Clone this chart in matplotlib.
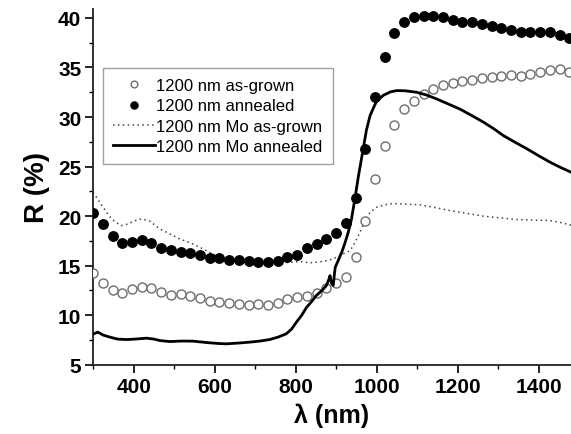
import matplotlib
matplotlib.use("Agg")
import matplotlib.pyplot as plt
from matplotlib.ticker import MultipleLocator

plt.rcParams['font.family'] = ['Liberation Sans', 'DejaVu Sans']

# wavelengths of the sampled (marker) series, nm
wl_pts = [300, 324, 348, 372, 396, 420, 444, 468, 492, 516, 540, 564, 588, 612,
          636, 660, 684, 708, 732, 756, 780, 804, 828, 852, 876, 900, 924, 948,
          972, 996, 1020, 1044, 1068, 1092, 1116, 1140, 1164, 1188, 1212, 1236,
          1260, 1284, 1308, 1332, 1356, 1380, 1404, 1428, 1452, 1476]

# 1200 nm as-grown (open circles)
r_asgrown = [14.25, 13.27, 12.56, 12.26, 12.64, 12.84, 12.74, 12.39, 12.06, 12.13,
             11.99, 11.79, 11.48, 11.35, 11.25, 11.15, 11.02, 11.12, 11.05, 11.2,
             11.6, 11.8, 11.9, 12.2, 12.8, 13.3, 13.85, 15.9, 19.5, 23.7,
             27.05, 29.2, 30.8, 31.66, 32.3, 32.8, 33.2, 33.4, 33.6, 33.7,
             33.9, 34.05, 34.1, 34.2, 34.1, 34.3, 34.5, 34.7, 34.8, 34.5]

# 1200 nm annealed (filled circles)
r_annealed = [20.33, 19.19, 17.98, 17.31, 17.44, 17.58, 17.28, 16.8, 16.57, 16.43,
              16.33, 16.1, 15.82, 15.76, 15.59, 15.59, 15.49, 15.42, 15.42, 15.49,
              15.89, 16.1, 16.8, 17.2, 17.68, 18.3, 19.3, 21.8, 26.8, 32.0,
              36.1, 38.5, 39.6, 40.07, 40.23, 40.17, 40.07, 39.83, 39.63, 39.63,
              39.4, 39.22, 38.96, 38.79, 38.62, 38.56, 38.56, 38.56, 38.29, 37.95]

# 1200 nm Mo as-grown (dotted line)
wl_mo_ag = [300, 320, 340, 355, 370, 385, 400, 420, 440, 465, 490, 514, 540, 563,
            585, 604, 630, 660, 690, 712, 740, 770, 811, 835, 856, 875, 893, 918,
            935, 947, 959, 972, 984, 1000, 1020, 1041, 1060, 1083, 1107, 1140,
            1181, 1220, 1264, 1300, 1346, 1390, 1428, 1455, 1480]
r_mo_ag = [22.4, 21.2, 20.0, 19.4, 19.05, 19.2, 19.5, 19.73, 19.5, 18.7, 18.2, 17.7,
           17.3, 16.87, 16.4, 16.0, 15.75, 15.55, 15.45, 15.36, 15.35, 15.3, 15.42,
           15.3, 15.36, 15.5, 15.69, 16.2, 16.53, 17.37, 18.38, 19.56, 20.4, 20.9,
           21.15, 21.27, 21.24, 21.2, 21.14, 20.9, 20.57, 20.3, 20.0, 19.85, 19.66,
           19.6, 19.56, 19.35, 19.1]

# 1200 nm Mo annealed (solid line)
wl_mo_an = [300, 312, 325, 341, 360, 382, 405, 432, 450, 465, 489, 520, 547, 580,
            610, 629, 660, 687, 712, 736, 757, 777, 790, 802, 815, 827, 840, 851,
            865, 876, 882, 885, 889, 893, 896, 898, 905, 914, 922, 930, 938, 947,
            955, 967, 975, 984, 992, 1000, 1017, 1035, 1050, 1070, 1099, 1125,
            1148, 1175, 1206, 1235, 1264, 1290, 1313, 1340, 1371, 1400, 1428,
            1455, 1480]
r_mo_an = [8.1, 8.3, 8.0, 7.8, 7.6, 7.55, 7.6, 7.69, 7.6, 7.45, 7.35, 7.4, 7.39,
           7.25, 7.15, 7.12, 7.2, 7.29, 7.4, 7.55, 7.8, 8.13, 8.6, 9.3, 10.0, 10.8,
           11.4, 11.99, 12.5, 13.0, 13.6, 14.0, 13.2, 13.0, 14.2, 14.85, 15.5,
           16.37, 17.3, 18.38, 19.7, 21.9, 24.0, 26.8, 28.7, 30.15, 30.9, 31.6,
           32.2, 32.55, 32.67, 32.65, 32.5, 32.2, 31.83, 31.35, 30.8, 30.15,
           29.48, 28.8, 28.13, 27.5, 26.8, 26.1, 25.45, 24.9, 24.44]

fig = plt.figure(figsize=(5.71, 4.35), dpi=100)
ax = fig.add_axes([0.163, 0.159, 0.837, 0.818])

ax.plot(wl_pts, r_asgrown, 'o', ms=6.5, mfc='white', mec='#6e6e6e', mew=1.0,
        label='1200 nm as-grown', zorder=3)
ax.plot(wl_pts, r_annealed, 'o', ms=6.8, mfc='black', mec='black',
        label='1200 nm annealed', zorder=3)
ax.plot(wl_mo_ag, r_mo_ag, ls=(0, (1, 2.2)), lw=1.1, color='#444444',
        label='1200 nm Mo as-grown', zorder=2)
ax.plot(wl_mo_an, r_mo_an, '-', lw=2.0, color='black',
        label='1200 nm Mo annealed', zorder=4)

ax.set_xlim(300, 1480)
ax.set_ylim(5, 40.9)
ax.xaxis.set_major_locator(MultipleLocator(200))
ax.xaxis.set_minor_locator(MultipleLocator(100))
ax.yaxis.set_major_locator(MultipleLocator(5))
ax.yaxis.set_minor_locator(MultipleLocator(2.5))
ax.spines['top'].set_visible(False)
ax.spines['right'].set_visible(False)
for s in ('left', 'bottom'):
    ax.spines[s].set_linewidth(1.3)
    ax.spines[s].set_color('#222222')
ax.tick_params(which='major', direction='out', length=5.5, width=1.2,
               labelsize=15, pad=3)
ax.tick_params(which='minor', direction='out', length=3, width=1.0)
for lab in ax.get_xticklabels() + ax.get_yticklabels():
    lab.set_fontweight('bold')

ax.set_xlabel('λ (nm)', fontsize=18, fontweight='bold', labelpad=5)
ax.set_ylabel('R (%)', fontsize=20, fontweight='bold', labelpad=6)

leg = ax.legend(loc='upper left', bbox_to_anchor=(0.021, 0.834),
                borderaxespad=0, fontsize=12, frameon=True, fancybox=False,
                edgecolor='#888888', handlelength=2.5, handletextpad=0.1,
                labelspacing=0.32, borderpad=0.6, markerscale=0.75)
leg.get_frame().set_linewidth(1.0)

fig.savefig('out.png', dpi=100)
